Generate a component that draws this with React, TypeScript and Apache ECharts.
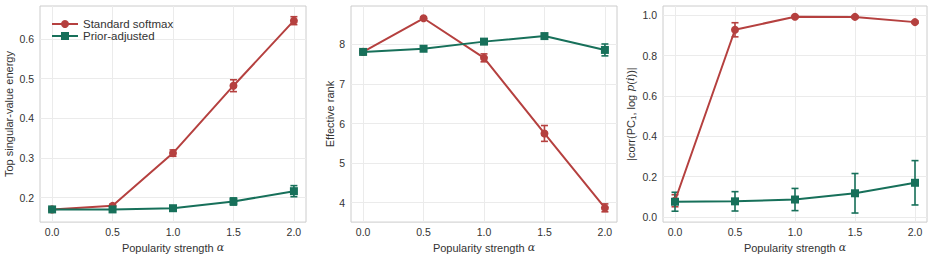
import React, { useEffect, useRef } from "react";
import * as echarts from "echarts";

const alpha = [0, 0.5, 1.0, 1.5, 2.0];
const xTicks = [0, 0.5, 1.0, 1.5, 2.0];

const energySoftmax = [0.17, 0.179, 0.312, 0.482, 0.646];
const energySoftmaxErr = [0.003, 0.004, 0.008, 0.015, 0.01];
const energyPrior = [0.17, 0.17, 0.173, 0.19, 0.216];
const energyPriorErr = [0.003, 0.003, 0.004, 0.009, 0.014];

const rankSoftmax = [7.81, 8.66, 7.66, 5.75, 3.87];
const rankSoftmaxErr = [0.03, 0.03, 0.1, 0.2, 0.1];
const rankPrior = [7.81, 7.89, 8.07, 8.21, 7.86];
const rankPriorErr = [0.03, 0.03, 0.04, 0.05, 0.15];

const corrSoftmax = [0.08, 0.928, 0.993, 0.992, 0.966];
const corrSoftmaxErr = [0.03, 0.035, 0.005, 0.005, 0.005];
const corrPrior = [0.075, 0.077, 0.086, 0.117, 0.169];
const corrPriorErr = [0.047, 0.048, 0.055, 0.098, 0.11];

const RED = "#b5403f";
const GREEN = "#17705a";
const TXT = "#333333";
const FONT = "Liberation Sans, Arial, sans-serif";

export default function App() {
  const ref = useRef<HTMLDivElement>(null);
  useEffect(() => {
    if (!ref.current) return;
    const chart = echarts.init(ref.current, undefined, { renderer: "svg" });

    const grids = [
      { left: 40, top: 6, width: 266, height: 218 },
      { left: 351, top: 6, width: 266, height: 218 },
      { left: 663, top: 6, width: 264, height: 218 },
    ].map((g) => ({ ...g, show: true, borderColor: "#cccccc", borderWidth: 1, backgroundColor: "#fff" }));

    const xAxes = [0, 1, 2].map((i) => ({
      type: "value",
      gridIndex: i,
      min: -0.1,
      max: 2.1,
      axisLine: { show: false },
      axisTick: { show: false, customValues: xTicks },
      axisLabel: {
        customValues: xTicks,
        formatter: (v: number) => v.toFixed(1),
        color: TXT,
        fontSize: 10.5,
        fontFamily: FONT,
        margin: 4,
      },
      splitLine: { show: true, lineStyle: { color: "#ebebeb", width: 1 } },
      name: "Popularity strength {it|α}",
      nameLocation: "middle",
      nameGap: 16,
      nameTextStyle: {
        color: TXT,
        fontSize: 11,
        fontFamily: FONT,
        rich: { it: { fontStyle: "italic", fontSize: 11, fontFamily: "DejaVu Serif", color: TXT } },
      },
    }));

    const yBase = (i: number, min: number, max: number, ticks: number[], dec: number, name: string, gap: number, rich?: any) => ({
      type: "value",
      gridIndex: i,
      min,
      max,
      axisLine: { show: false },
      axisTick: { show: false, customValues: ticks },
      axisLabel: {
        customValues: ticks,
        formatter: (v: number) => v.toFixed(dec),
        color: TXT,
        fontSize: 10.5,
        fontFamily: FONT,
        margin: 6,
      },
      splitLine: { show: true, lineStyle: { color: "#ebebeb", width: 1 } },
      name,
      nameLocation: "middle",
      nameGap: gap,
      nameTextStyle: { color: TXT, fontSize: 11, fontFamily: FONT, rich },
    });

    const yAxes = [
      yBase(0, 0.138, 0.683, [0.2, 0.3, 0.4, 0.5, 0.6], 1, "Top singular-value energy", 26),
      yBase(1, 3.51, 8.97, [4, 5, 6, 7, 8], 0, "Effective rank", 16),
      yBase(2, -0.026, 1.046, [0, 0.2, 0.4, 0.6, 0.8, 1.0], 1, "|corr(PC{sub|1}, log {it|p}({it|i}))|", 26, {
        sub: { fontSize: 8, fontFamily: FONT, color: TXT, padding: [5, 0, 0, 0] },
        it: { fontStyle: "italic", fontSize: 11, fontFamily: "DejaVu Serif", color: TXT },
      }),
    ];

    const errSeries = (idx: number, vals: number[], errs: number[], color: string) => ({
      type: "custom",
      xAxisIndex: idx,
      yAxisIndex: idx,
      silent: true,
      encode: { x: 0, y: [1] },
      data: alpha.map((a, k) => [a, vals[k], errs[k]]),
      renderItem: (params: any, api: any) => {
        const x = api.value(0);
        const y = api.value(1);
        const e = api.value(2);
        const t = api.coord([x, y + e]);
        const b = api.coord([x, y - e]);
        const cap = 3.5;
        const st = { stroke: color, lineWidth: 1.6 };
        return {
          type: "group",
          children: [
            { type: "line", shape: { x1: t[0], y1: t[1], x2: b[0], y2: b[1] }, style: st },
            { type: "line", shape: { x1: t[0] - cap, y1: t[1], x2: t[0] + cap, y2: t[1] }, style: st },
            { type: "line", shape: { x1: b[0] - cap, y1: b[1], x2: b[0] + cap, y2: b[1] }, style: st },
          ],
        };
      },
    });

    const lineSeries = (idx: number, name: string, vals: number[], color: string, symbol: string, size: number) => ({
      type: "line",
      name,
      xAxisIndex: idx,
      yAxisIndex: idx,
      data: alpha.map((a, k) => [a, vals[k]]),
      symbol,
      symbolSize: size,
      showAllSymbol: true,
      lineStyle: { color, width: 2 },
      itemStyle: { color },
    });

    const S = "Standard softmax";
    const P = "Prior-adjusted";
    const series: any[] = [];
    const panels = [
      [energySoftmax, energySoftmaxErr, energyPrior, energyPriorErr],
      [rankSoftmax, rankSoftmaxErr, rankPrior, rankPriorErr],
      [corrSoftmax, corrSoftmaxErr, corrPrior, corrPriorErr],
    ];
    panels.forEach((p, i) => {
      series.push(errSeries(i, p[0], p[1], RED));
      series.push(lineSeries(i, S, p[0], RED, "circle", 8));
      series.push(errSeries(i, p[2], p[3], GREEN));
      series.push(lineSeries(i, P, p[2], GREEN, "rect", 8));
    });

    chart.setOption({
      animation: false,
      backgroundColor: "#ffffff",
      grid: grids,
      xAxis: xAxes,
      yAxis: yAxes,
      legend: {
        data: [S, P],
        orient: "vertical",
        left: 46,
        top: 13,
        itemWidth: 26,
        itemHeight: 10,
        itemGap: 0,
        textStyle: { color: TXT, fontSize: 11.5, fontFamily: FONT },
        selectedMode: false,
      },
      series,
    });
    return () => chart.dispose();
  }, []);
  return <div ref={ref} style={{ width: 935, height: 258, position: "absolute", left: 0, top: 0 }} />;
}
